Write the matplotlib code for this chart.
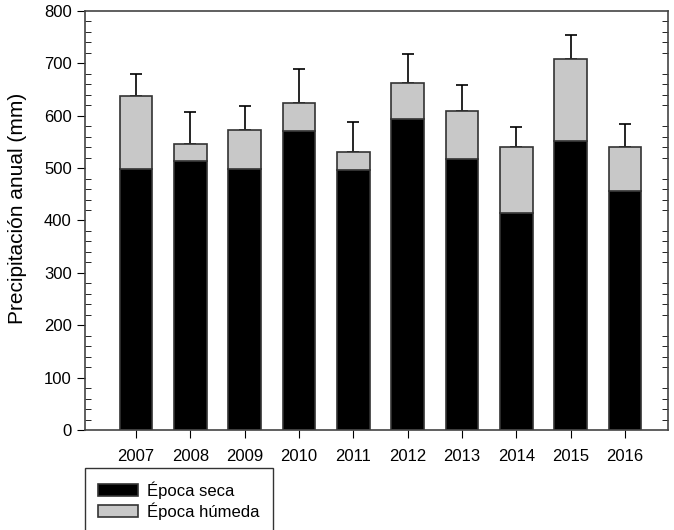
import matplotlib.pyplot as plt
import numpy as np
from matplotlib.ticker import MultipleLocator

plt.rcParams['font.family'] = ['Liberation Sans', 'DejaVu Sans']

# datos
anios = ['2007', '2008', '2009', '2010', '2011', '2012', '2013', '2014', '2015', '2016']
seca = [498, 513, 498, 570, 497, 593, 517, 414, 552, 457]
total = [637, 547, 572, 625, 531, 663, 609, 540, 709, 540]
error_sup = [680, 607, 618, 690, 589, 718, 658, 578, 754, 585]

seca = np.array(seca)
total = np.array(total)
humeda = total - seca
err = np.array(error_sup) - total

fig = plt.figure(figsize=(6.74, 5.30), dpi=100)
ax = fig.add_axes([85/674, 1-430/530, (668-85)/674, (430-11)/530])

x = np.arange(len(anios))
borde = '#333333'
ax.bar(x, seca, width=0.6, color='black', edgecolor=borde, linewidth=1.2,
       label='Época seca', zorder=2)
ax.bar(x, humeda, bottom=seca, width=0.6, color='#c8c8c8', edgecolor=borde,
       linewidth=1.2, label='Época húmeda', zorder=2)
ax.errorbar(x, total, yerr=[np.zeros_like(err), err], fmt='none', ecolor='black',
            elinewidth=1.2, capsize=4.3, capthick=1.2, zorder=1)

ax.set_xlim(-0.94, 9.79)
ax.set_ylim(0, 800)
ax.set_xticks(x)
ax.set_xticklabels(anios, fontsize=12)
ax.yaxis.set_major_locator(MultipleLocator(100))
ax.yaxis.set_minor_locator(MultipleLocator(20))
ax.tick_params(axis='y', which='major', direction='out', length=6, labelsize=12)
ax.tick_params(axis='y', which='minor', direction='in', length=4, right=True)
ax.tick_params(axis='x', which='major', direction='out', length=6, pad=8)
ax.set_ylabel('Precipitación anual (mm)', fontsize=15)
ax.yaxis.set_label_coords(-0.1, 0.53)
for s in ax.spines.values():
    s.set_color('#444444')
    s.set_linewidth(1.2)

leg = fig.legend(loc='upper left', bbox_to_anchor=(85/674, 1-468/530), fontsize=12,
                 frameon=True, fancybox=False, handlelength=2.4, handleheight=0.8,
                 borderpad=0.8, labelspacing=0.2, handletextpad=0.5, borderaxespad=0)
leg.get_frame().set_edgecolor('black')
leg.get_frame().set_linewidth(1.0)

fig.savefig('out.png', dpi=100)
